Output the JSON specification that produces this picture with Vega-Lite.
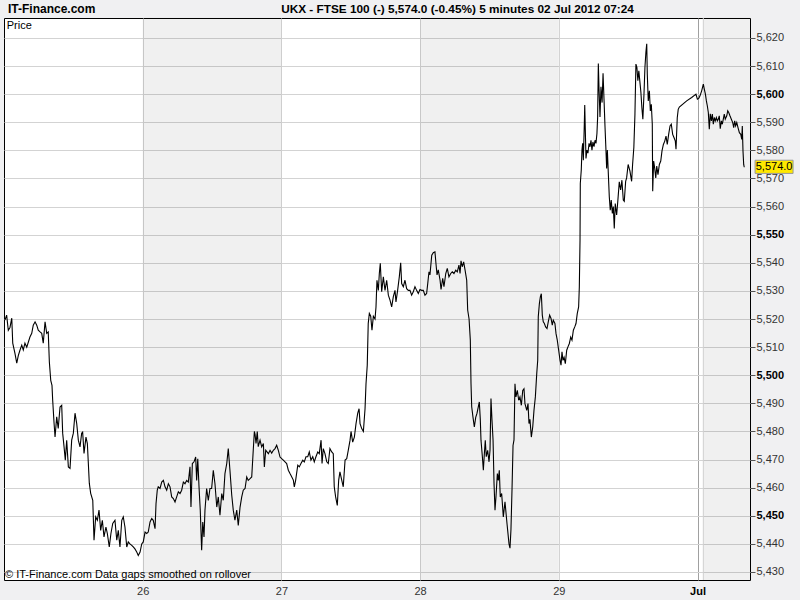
{
"$schema": "https://vega.github.io/schema/vega-lite/v6.json",
"width": 746, "height": 562,
"autosize": {"type": "none"},
"padding": {"left": 4, "top": 18, "right": 50, "bottom": 20},
"background": "#f0f0f2",
"view": {"stroke": "#000", "strokeWidth": 1, "fill": "white"},
"config": {"view": {"stroke": "#000", "strokeWidth": 1, "fill": "white"}, "font": "Liberation Sans Narrow, Liberation Sans, sans-serif"},
"datasets": {
"price": [
{"t":0.007,"p":5519.6},{"t":0.019,"p":5521.4},{"t":0.031,"p":5516},{"t":0.043,"p":5517},{"t":0.056,"p":5520.3},{"t":0.063,"p":5511.4},{"t":0.079,"p":5507.8},{"t":0.092,"p":5504.3},{"t":0.103,"p":5507},{"t":0.115,"p":5508.9},{"t":0.128,"p":5510.7},{"t":0.139,"p":5509},{"t":0.151,"p":5511.4},{"t":0.164,"p":5510},{"t":0.187,"p":5513.6},{"t":0.2,"p":5514.9},{"t":0.211,"p":5517.8},{"t":0.224,"p":5519},{"t":0.236,"p":5517.8},{"t":0.247,"p":5516},{"t":0.26,"p":5515.4},{"t":0.272,"p":5514.9},{"t":0.283,"p":5511.4},{"t":0.296,"p":5519},{"t":0.308,"p":5514.9},{"t":0.319,"p":5515.4},{"t":0.327,"p":5504.7},{"t":0.337,"p":5498.2},{"t":0.346,"p":5496.4},{"t":0.351,"p":5491.1},{"t":0.361,"p":5482.9},{"t":0.368,"p":5478},{"t":0.38,"p":5485.2},{"t":0.391,"p":5481.1},{"t":0.404,"p":5488.7},{"t":0.416,"p":5489.3},{"t":0.423,"p":5479.4},{"t":0.433,"p":5474.5},{"t":0.442,"p":5469.8},{"t":0.452,"p":5476.9},{"t":0.464,"p":5467.4},{"t":0.476,"p":5466.9},{"t":0.488,"p":5476.9},{"t":0.5,"p":5479.4},{"t":0.512,"p":5486.5},{"t":0.524,"p":5482.9},{"t":0.536,"p":5476.9},{"t":0.548,"p":5474.5},{"t":0.56,"p":5479.4},{"t":0.567,"p":5479.8},{"t":0.577,"p":5472.2},{"t":0.591,"p":5478},{"t":0.601,"p":5475.7},{"t":0.608,"p":5468.7},{"t":0.615,"p":5461.6},{"t":0.625,"p":5458},{"t":0.64,"p":5455.5},{"t":0.649,"p":5441.3},{"t":0.661,"p":5449.6},{"t":0.673,"p":5448.4},{"t":0.685,"p":5452},{"t":0.697,"p":5444.8},{"t":0.709,"p":5448.4},{"t":0.721,"p":5442.5},{"t":0.735,"p":5446},{"t":0.745,"p":5443.7},{"t":0.759,"p":5438.9},{"t":0.771,"p":5443.7},{"t":0.784,"p":5447.3},{"t":0.8,"p":5448.4},{"t":0.813,"p":5441.3},{"t":0.824,"p":5444.8},{"t":0.836,"p":5438.9},{"t":0.849,"p":5448.4},{"t":0.86,"p":5449.6},{"t":0.872,"p":5446},
{"t":0.885,"p":5438.9},{"t":0.896,"p":5440.7},{"t":0.908,"p":5440},{"t":0.921,"p":5439.5},{"t":0.932,"p":5438.9},{"t":0.944,"p":5438.2},{"t":0.957,"p":5437.1},{"t":0.968,"p":5435.9},{"t":0.981,"p":5437.1},{"t":0.993,"p":5440},{"t":1.004,"p":5440.7},{"t":1.017,"p":5444.2},{"t":1.029,"p":5443.7},{"t":1.04,"p":5444.2},{"t":1.053,"p":5447.8},{"t":1.065,"p":5449},{"t":1.076,"p":5448.4},{"t":1.089,"p":5445.4},{"t":1.096,"p":5454.3},{"t":1.105,"p":5459.1},{"t":1.112,"p":5460.3},{"t":1.125,"p":5459.7},{"t":1.137,"p":5462},{"t":1.149,"p":5462.6},{"t":1.161,"p":5460.3},{"t":1.173,"p":5459.1},{"t":1.185,"p":5461.4},{"t":1.197,"p":5460.3},{"t":1.209,"p":5456.7},{"t":1.221,"p":5456.1},{"t":1.233,"p":5454.9},{"t":1.245,"p":5456.7},{"t":1.257,"p":5458.5},{"t":1.269,"p":5457.9},{"t":1.281,"p":5459.1},{"t":1.293,"p":5462},{"t":1.305,"p":5461.4},{"t":1.317,"p":5462.6},{"t":1.329,"p":5462},{"t":1.341,"p":5467.4},{"t":1.348,"p":5453.1},{"t":1.358,"p":5468.6},{"t":1.37,"p":5469.2},{"t":1.382,"p":5470.9},{"t":1.389,"p":5462.6},{"t":1.397,"p":5470.3},{"t":1.406,"p":5460.3},{"t":1.415,"p":5452},{"t":1.425,"p":5437.7},{"t":1.433,"p":5447.8},{"t":1.442,"p":5442.5},{"t":1.449,"p":5452},{"t":1.461,"p":5459.7},{"t":1.473,"p":5455.5},{"t":1.485,"p":5459.7},{"t":1.497,"p":5459.7},{"t":1.509,"p":5466.2},{"t":1.521,"p":5461.4},{"t":1.534,"p":5453.1},{"t":1.545,"p":5456.7},{"t":1.557,"p":5450.2},{"t":1.57,"p":5457.9},{"t":1.581,"p":5455.5},{"t":1.593,"p":5465},{"t":1.606,"p":5468.6},{"t":1.617,"p":5473.9},{"t":1.629,"p":5466.2},{"t":1.642,"p":5457.3},{"t":1.653,"p":5452},{"t":1.665,"p":5448.4},{"t":1.678,"p":5452},{"t":1.689,"p":5446.6},{"t":1.702,"p":5453.1},{"t":1.714,"p":5456.7},{"t":1.725,"p":5459.1},{"t":1.738,"p":5459.7},{"t":1.75,"p":5463.8},{"t":1.761,"p":5462.6},{"t":1.774,"p":5463.2},{"t":1.786,"p":5463.8},{"t":1.797,"p":5473.3},{"t":1.805,"p":5480},
{"t":1.81,"p":5479},{"t":1.817,"p":5475.7},{"t":1.826,"p":5480},{"t":1.833,"p":5474.6},{"t":1.846,"p":5476.9},{"t":1.858,"p":5474.5},{"t":1.87,"p":5475.7},{"t":1.877,"p":5467.4},{"t":1.887,"p":5473.3},{"t":1.906,"p":5472.1},{"t":1.918,"p":5473.3},{"t":1.93,"p":5472.3},{"t":1.942,"p":5473.3},{"t":1.954,"p":5473.9},{"t":1.966,"p":5475.1},{"t":1.978,"p":5473.3},{"t":1.99,"p":5470.9},{"t":2.002,"p":5470.3},{"t":2.014,"p":5469.8},{"t":2.026,"p":5469.2},{"t":2.038,"p":5468.6},{"t":2.05,"p":5466.2},{"t":2.062,"p":5465},{"t":2.074,"p":5463.9},{"t":2.086,"p":5462.7},{"t":2.093,"p":5460.3},{"t":2.103,"p":5462.7},{"t":2.118,"p":5468},{"t":2.129,"p":5467.4},{"t":2.141,"p":5468.6},{"t":2.154,"p":5469.8},{"t":2.165,"p":5469.2},{"t":2.177,"p":5471},{"t":2.19,"p":5471},{"t":2.201,"p":5472.7},{"t":2.213,"p":5469.8},{"t":2.226,"p":5471},{"t":2.237,"p":5469.2},{"t":2.249,"p":5471},{"t":2.262,"p":5472.7},{"t":2.273,"p":5472.1},{"t":2.286,"p":5476.9},{"t":2.293,"p":5468.6},{"t":2.302,"p":5473.9},{"t":2.314,"p":5472.1},{"t":2.327,"p":5469.2},{"t":2.338,"p":5468.6},{"t":2.35,"p":5473.9},{"t":2.363,"p":5472.7},{"t":2.374,"p":5472.1},{"t":2.381,"p":5460.3},{"t":2.391,"p":5456.7},{"t":2.403,"p":5453.7},{"t":2.413,"p":5462.7},{"t":2.422,"p":5465.6},{"t":2.435,"p":5462.7},{"t":2.446,"p":5460.3},{"t":2.459,"p":5469.8},{"t":2.471,"p":5470.3},{"t":2.482,"p":5473.3},{"t":2.495,"p":5476.9},{"t":2.502,"p":5480},{"t":2.514,"p":5476.2},{"t":2.526,"p":5478},{"t":2.538,"p":5482.8},{"t":2.55,"p":5486.4},{"t":2.56,"p":5488.1},{"t":2.567,"p":5482.8},{"t":2.579,"p":5481},{"t":2.591,"p":5480},{"t":2.603,"p":5488.1},{"t":2.61,"p":5497},{"t":2.619,"p":5503.6},{"t":2.626,"p":5518.4},{"t":2.634,"p":5522},{"t":2.644,"p":5521},{"t":2.653,"p":5516},{"t":2.663,"p":5521},{"t":2.675,"p":5520},{"t":2.682,"p":5524.3},{"t":2.689,"p":5533.8},{"t":2.699,"p":5530.2},{"t":2.706,"p":5536.2},
{"t":2.713,"p":5539.8},{"t":2.723,"p":5529.7},{"t":2.735,"p":5535},{"t":2.747,"p":5530.2},{"t":2.759,"p":5533.8},{"t":2.771,"p":5528.5},{"t":2.783,"p":5526.7},{"t":2.795,"p":5524.3},{"t":2.807,"p":5528},{"t":2.819,"p":5530.2},{"t":2.826,"p":5526.1},{"t":2.838,"p":5530.2},{"t":2.85,"p":5535},{"t":2.86,"p":5540},{"t":2.867,"p":5532.6},{"t":2.879,"p":5531.5},{"t":2.891,"p":5533.8},{"t":2.903,"p":5530.8},{"t":2.915,"p":5530.2},{"t":2.927,"p":5530.2},{"t":2.939,"p":5528.5},{"t":2.951,"p":5529.7},{"t":2.963,"p":5531.5},{"t":2.975,"p":5530.2},{"t":2.987,"p":5529.1},{"t":2.999,"p":5530.5},{"t":3.011,"p":5530.2},{"t":3.023,"p":5530.2},{"t":3.035,"p":5528.5},{"t":3.047,"p":5529.1},{"t":3.055,"p":5532.6},{"t":3.064,"p":5536.8},{"t":3.071,"p":5535.7},{"t":3.084,"p":5542.7},{"t":3.095,"p":5543.6},{"t":3.107,"p":5543.9},{"t":3.115,"p":5539.4},{"t":3.122,"p":5535.7},{"t":3.131,"p":5537.5},{"t":3.144,"p":5533.8},{"t":3.151,"p":5530.5},{"t":3.163,"p":5534.5},{"t":3.172,"p":5531.5},{"t":3.185,"p":5536.2},{"t":3.196,"p":5538},{"t":3.208,"p":5535},{"t":3.221,"p":5536.2},{"t":3.232,"p":5536.8},{"t":3.244,"p":5536.2},{"t":3.257,"p":5537.4},{"t":3.268,"p":5536.8},{"t":3.28,"p":5539.2},{"t":3.288,"p":5536.2},{"t":3.295,"p":5540.7},{"t":3.304,"p":5538.6},{"t":3.314,"p":5540.3},{"t":3.324,"p":5537.5},{"t":3.336,"p":5533.8},{"t":3.343,"p":5523.2},{"t":3.353,"p":5520},{"t":3.362,"p":5512.5},{"t":3.367,"p":5497.1},{"t":3.372,"p":5488.8},{"t":3.381,"p":5485.2},{"t":3.391,"p":5481.6},{"t":3.401,"p":5485},{"t":3.41,"p":5486.4},{"t":3.42,"p":5488.8},{"t":3.427,"p":5490.5},{"t":3.434,"p":5484.3},{"t":3.439,"p":5476.9},{"t":3.449,"p":5471},{"t":3.456,"p":5466.2},{"t":3.463,"p":5471.9},{"t":3.47,"p":5476.9},{"t":3.477,"p":5471},{"t":3.487,"p":5473.3},{"t":3.497,"p":5469.2},{"t":3.504,"p":5473.3},{"t":3.511,"p":5491.7},{"t":3.518,"p":5484.3},{"t":3.526,"p":5476.9},{"t":3.533,"p":5461.5},{"t":3.54,"p":5452},{"t":3.547,"p":5456.7},{"t":3.557,"p":5465},{"t":3.564,"p":5462.6},{"t":3.571,"p":5466.2},{"t":3.578,"p":5456.7},{"t":3.588,"p":5457.9},{"t":3.6,"p":5449.6},{"t":3.612,"p":5455},{"t":3.627,"p":5447},{"t":3.641,"p":5440},{"t":3.648,"p":5438.5},{"t":3.655,"p":5445},{"t":3.663,"p":5460},{"t":3.67,"p":5475},
{"t":3.677,"p":5477},{"t":3.684,"p":5497},{"t":3.691,"p":5492.3},{"t":3.701,"p":5494.6},{"t":3.711,"p":5491.1},{"t":3.72,"p":5492.3},{"t":3.73,"p":5489.3},{"t":3.74,"p":5494.6},{"t":3.749,"p":5495.2},{"t":3.756,"p":5489.9},{"t":3.769,"p":5487.5},{"t":3.778,"p":5489.9},{"t":3.785,"p":5482.8},{"t":3.792,"p":5484.3},{"t":3.802,"p":5478},{"t":3.812,"p":5481.6},{"t":3.821,"p":5487.5},{"t":3.831,"p":5492.3},{"t":3.841,"p":5500.6},{"t":3.848,"p":5505.3},{"t":3.852,"p":5520.8},{"t":3.86,"p":5525.5},{"t":3.867,"p":5527.9},{"t":3.874,"p":5529},{"t":3.881,"p":5521.4},{"t":3.888,"p":5519},{"t":3.896,"p":5518.4},{"t":3.905,"p":5517.2},{"t":3.915,"p":5516.6},{"t":3.924,"p":5519},{"t":3.934,"p":5521.4},{"t":3.944,"p":5520.2},{"t":3.953,"p":5517.8},{"t":3.96,"p":5519.6},{"t":3.972,"p":5518.4},{"t":3.98,"p":5514.8},{"t":3.989,"p":5512.5},{"t":3.999,"p":5508.9},{"t":4.009,"p":5505.3},{"t":4.016,"p":5503.6},{"t":4.023,"p":5508.3},{"t":4.03,"p":5505.3},{"t":4.038,"p":5506.4},{"t":4.047,"p":5504.1},{"t":4.057,"p":5508.9},{"t":4.066,"p":5510.1},{"t":4.076,"p":5511.3},{"t":4.086,"p":5513.6},{"t":4.095,"p":5512.5},{"t":4.105,"p":5516},{"t":4.115,"p":5517.2},{"t":4.124,"p":5518.4},{"t":4.133,"p":5521.9},{"t":4.143,"p":5524.3},{"t":4.148,"p":5531.5},{"t":4.153,"p":5548},{"t":4.155,"p":5568.2},{"t":4.162,"p":5573},{"t":4.167,"p":5580.1},{"t":4.172,"p":5582.5},{"t":4.177,"p":5576.5},{"t":4.184,"p":5589.6},{"t":4.187,"p":5596.1},{"t":4.191,"p":5587.5},{"t":4.196,"p":5577.1},{"t":4.203,"p":5580.1},{"t":4.21,"p":5579},{"t":4.218,"p":5582.5},{"t":4.225,"p":5581.3},{"t":4.232,"p":5583.6},{"t":4.239,"p":5580.1},{"t":4.246,"p":5583},{"t":4.254,"p":5581.3},{"t":4.261,"p":5583.6},{"t":4.268,"p":5582.5},{"t":4.275,"p":5586},{"t":4.28,"p":5591.9},{"t":4.285,"p":5610.9},{"t":4.29,"p":5601.9},{"t":4.297,"p":5591.9},{"t":4.304,"p":5602.6},{"t":4.312,"p":5597},{"t":4.319,"p":5607.4},{"t":4.326,"p":5598.1},{"t":4.333,"p":5588.6},{"t":4.34,"p":5580.1},{"t":4.345,"p":5573.6},{"t":4.35,"p":5580.1},{"t":4.357,"p":5571.8},{"t":4.364,"p":5563.5},{"t":4.371,"p":5558.7},{"t":4.378,"p":5562.3},{"t":4.386,"p":5557.6},{"t":4.393,"p":5560},{"t":4.4,"p":5552.2},{"t":4.407,"p":5561.1},{"t":4.417,"p":5557},{"t":4.426,"p":5562.3},{"t":4.436,"p":5568.8},{"t":4.446,"p":5565.9},{"t":4.455,"p":5569.4},{"t":4.465,"p":5562.3},{"t":4.472,"p":5561.9},{"t":4.482,"p":5569},{"t":4.489,"p":5570.2},{"t":4.5,"p":5575},{"t":4.513,"p":5572.6},{"t":4.525,"p":5569},{"t":4.532,"p":5575},{"t":4.541,"p":5581},{"t":4.549,"p":5592.9},{"t":4.556,"p":5610.7},{"t":4.563,"p":5609.5},{"t":4.57,"p":5604.8},{"t":4.577,"p":5608.3},{"t":4.585,"p":5604.2},{"t":4.592,"p":5600.6},{"t":4.599,"p":5595.2},{"t":4.606,"p":5591.1},{"t":4.614,"p":5600},{"t":4.621,"p":5609.5},{"t":4.628,"p":5614.9},{"t":4.634,"p":5617.9},{"t":4.638,"p":5607.1},{"t":4.645,"p":5597.6},{"t":4.653,"p":5601.2},{"t":4.66,"p":5594},{"t":4.667,"p":5596.4},{"t":4.674,"p":5589.3},{"t":4.677,"p":5565.5},{"t":4.684,"p":5576.2},{"t":4.691,"p":5573.8},{"t":4.699,"p":5570.2},{"t":4.706,"p":5574.4},{"t":4.715,"p":5571.4},{"t":4.725,"p":5575},{"t":4.735,"p":5576.2},{"t":4.744,"p":5579.8},{"t":4.754,"p":5582.1},{"t":4.764,"p":5583.3},{"t":4.773,"p":5585.1},{"t":4.782,"p":5582.1},{"t":4.792,"p":5585.7},{"t":4.802,"p":5588.7},{"t":4.811,"p":5589.3},{"t":4.821,"p":5585.7},{"t":4.831,"p":5584.5},{"t":4.84,"p":5583.3},{"t":4.845,"p":5580.4},{"t":4.854,"p":5591.6},{"t":4.861,"p":5594.6},{"t":4.869,"p":5595.4},{"t":4.922,"p":5597.6},{"t":4.958,"p":5598.8},{"t":4.989,"p":5600},{"t":4.999,"p":5598.2},{"t":5.009,"p":5598.5},{"t":5.018,"p":5599.4},{"t":5.03,"p":5601.2},{"t":5.042,"p":5603.6},{"t":5.049,"p":5601.8},{"t":5.057,"p":5600},{"t":5.064,"p":5597.6},{"t":5.071,"p":5595.8},{"t":5.078,"p":5593.5},{"t":5.085,"p":5587.5},{"t":5.092,"p":5593},{"t":5.1,"p":5590.5},{"t":5.107,"p":5592.9},{"t":5.114,"p":5589.3},{"t":5.121,"p":5591.7},{"t":5.128,"p":5590.5},{"t":5.136,"p":5591.7},{"t":5.143,"p":5590.5},{"t":5.15,"p":5591.1},{"t":5.157,"p":5592.3},{"t":5.164,"p":5587.7},{"t":5.172,"p":5590.5},{"t":5.179,"p":5589.3},{"t":5.186,"p":5591.1},{"t":5.193,"p":5592.9},{"t":5.2,"p":5591.1},{"t":5.211,"p":5592.3},{"t":5.218,"p":5594.1},{"t":5.225,"p":5593.5},{"t":5.234,"p":5592.3},{"t":5.244,"p":5591.1},{"t":5.254,"p":5589.9},{"t":5.261,"p":5588.1},{"t":5.268,"p":5590.5},{"t":5.275,"p":5588.7},{"t":5.283,"p":5589.9},{"t":5.292,"p":5588.1},{"t":5.302,"p":5586.3},{"t":5.312,"p":5585.7},{"t":5.319,"p":5583.9},{"t":5.323,"p":5588.7},{"t":5.328,"p":5579.8},{"t":5.333,"p":5575},{"t":5.337,"p":5574}
]
},
"encoding": {
"x": {"field": "t", "type": "quantitative", "scale": {"domain": [0, 5.3785], "nice": false, "zero": false},
"axis": {"orient": "bottom", "values": [1,2,3,4,5], "labelExpr": "datum.value == 5 ? 'Jul' : format(datum.value + 25, 'd')", "ticks": false, "domain": false, "labelPadding": 5, "labelFontSize": 11, "labelColor": {"condition": {"test": "datum.value == 5", "value": "#000"}, "value": "#333"}, "labelFontWeight": {"condition": {"test": "datum.value == 5", "value": "bold"}, "value": "normal"}, "labelOverlap": false, "grid": true, "gridColor": {"condition": {"test": "datum.value == 5", "value": "#a0a0a0"}, "value": "#d3d3d3"}, "title": null}},
"y": {"field": "p", "type": "quantitative", "scale": {"domain": [5427.15, 5627.1], "nice": false, "zero": false},
"axis": {"orient": "right", "values": [5430,5440,5450,5460,5470,5480,5490,5500,5510,5520,5530,5540,5550,5560,5570,5580,5590,5600,5610,5620], "format": ",d", "tickSize": 5, "tickColor": "#555", "labelPadding": 1, "labelFontSize": 11, "labelOverlap": false, "labelColor": {"condition": {"test": "datum.value % 50 === 0", "value": "#000"}, "value": "#333"}, "labelFontWeight": {"condition": {"test": "datum.value % 50 === 0", "value": "bold"}, "value": "normal"}, "grid": true, "gridColor": "#d3d3d3", "domain": false, "title": null}}
},
"layer": [
{
"data": {"values": [{"t":1,"t2":2,"p":5627.15,"p2":5427.15},{"t":3,"t2":4,"p":5627.15,"p2":5427.15},{"t":5.042,"t2":5.3785,"p":5627.15,"p2":5427.15}]},
"mark": {"type": "rect", "color": "#000", "opacity": 0.06},
"encoding": {"x2": {"field": "t2"}, "y2": {"field": "p2"}}
},
{
"data": {"values": [{"t":5.042,"p":5627.15,"p2":5427.15}]},
"mark": {"type": "rule", "color": "#d0d0d0", "strokeWidth": 1},
"encoding": {"y2": {"field": "p2"}}
},
{
"data": {"name": "price"},
"mark": {"type": "line", "color": "#000", "strokeWidth": 1.1, "interpolate": "linear"},
"encoding": {}
},
{
"data": {"values": [{"t": 5.415, "t2": 5.689, "p": 5571.8, "p2": 5576.5}]},
"mark": {"type": "rect", "fill": "#ffe800", "stroke": "#999", "strokeWidth": 1},
"encoding": {"x2": {"field": "t2"}, "y2": {"field": "p2"}}
},
{
"data": {"values": [{"t": 5.552, "p": 5574.15, "label": "5,574.0"}]},
"mark": {"type": "text", "baseline": "middle", "align": "center", "color": "#000", "fontSize": 11},
"encoding": {"text": {"field": "label"}}
},
{
"data": {"values": [{"t": 3.27, "p": 5630.3, "label": "UKX - FTSE 100 (-)   5,574.0 (-0.45%)   5 minutes  02 Jul 2012 07:24"}]},
"mark": {"type": "text", "baseline": "middle", "align": "center", "color": "#000", "fontSize": 11.8, "fontWeight": "bold"},
"encoding": {"text": {"field": "label"}}
},
{
"data": {"values": [{"t": 0.029, "p": 5630.3, "label": "IT-Finance.com"}]},
"mark": {"type": "text", "baseline": "middle", "align": "left", "color": "#000", "fontSize": 12, "fontWeight": "bold"},
"encoding": {"text": {"field": "label"}}
},
{
"data": {"values": [{"t": 0.02, "p": 5624.3, "label": "Price"}, {"t": 0.007, "p": 5428.9, "label": "© IT-Finance.com  Data gaps smoothed on rollover"}]},
"mark": {"type": "text", "baseline": "middle", "align": "left", "color": "#000", "fontSize": 11},
"encoding": {"text": {"field": "label"}}
}
]
}
